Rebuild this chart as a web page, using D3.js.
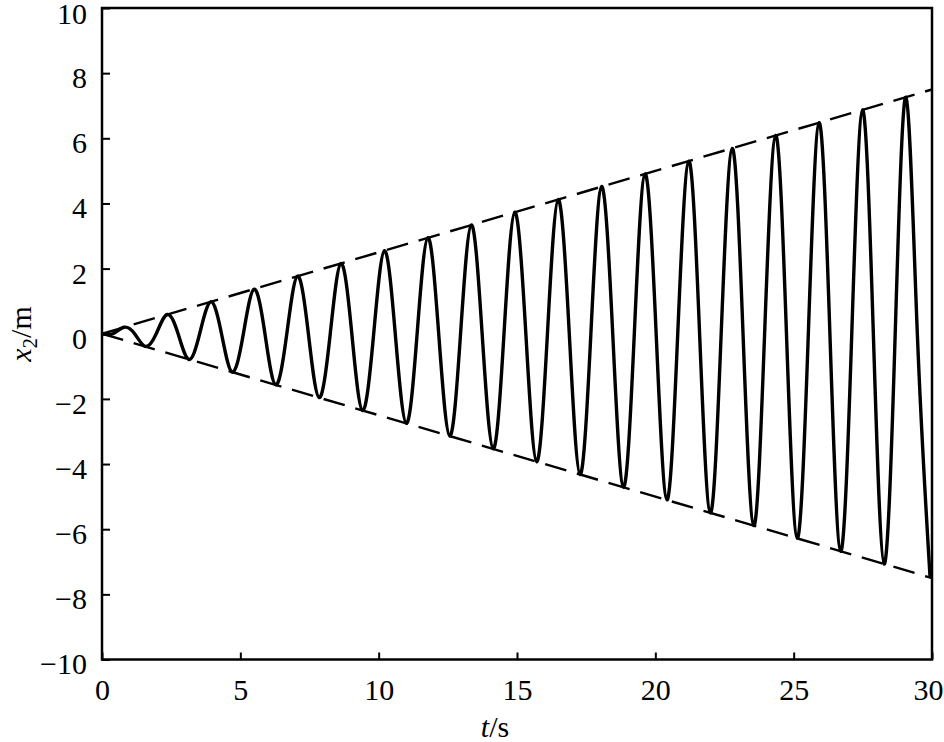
<!DOCTYPE html>
<html>
<head>
<meta charset="utf-8">
<script src="https://cdn.jsdelivr.net/npm/d3@7"></script>
<style>
  html, body { margin: 0; padding: 0; background: #fff; }
  svg { display: block; }
  text { font-family: "Liberation Serif", "Times New Roman", serif; fill: #000; }
</style>
</head>
<body>
<svg id="chart" width="944" height="742"></svg>
<script>
// ---- data ----
// times (s) of the peaks / troughs of x2
const extremaT = [0.79, 1.57, 2.36, 3.14, 3.93, 4.71, 5.50, 6.28, 7.07, 7.85,
  8.64, 9.42, 10.21, 11.00, 11.78, 12.57, 13.35, 14.14, 14.92, 15.71,
  16.49, 17.28, 18.06, 18.85, 19.63, 20.42, 21.21, 21.99, 22.78, 23.56,
  24.35, 25.13, 25.92, 26.70, 27.49, 28.27, 29.06, 29.93];
// x2 (m) at those peaks / troughs
const extremaV = [0.20, -0.39, 0.59, -0.79, 0.98, -1.18, 1.37, -1.57, 1.77, -1.96,
  2.16, -2.36, 2.55, -2.75, 2.95, -3.14, 3.34, -3.53, 3.73, -3.93,
  4.12, -4.32, 4.52, -4.71, 4.91, -5.10, 5.30, -5.50, 5.69, -5.89,
  6.09, -6.28, 6.48, -6.68, 6.87, -7.07, 7.26, -7.47];
// times (s) where x2 crosses zero
const zeroT = [0, 0.39, 1.18, 1.96, 2.75, 3.53, 4.32, 5.11, 5.89, 6.68, 7.46,
  8.25, 9.03, 9.82, 10.60, 11.39, 12.17, 12.96, 13.74, 14.53, 15.32,
  16.10, 16.89, 17.67, 18.46, 19.24, 20.03, 20.81, 21.60, 22.38, 23.17,
  23.95, 24.74, 25.53, 26.31, 27.10, 27.88, 28.67, 29.47];

// dashed envelope lines
const envT = [0, 30];
const envUpper = [0, 7.5];
const envLower = [0, -7.5];

// axis ticks
const xTicks = [0, 5, 10, 15, 20, 25, 30];
const yTicks = [-10, -8, -6, -4, -2, 0, 2, 4, 6, 8, 10];

// ---- build series ----
const series = [];
zeroT.forEach(t => series.push([t, 0]));
extremaT.forEach((t, i) => series.push([t, extremaV[i]]));
series.sort((a, b) => a[0] - b[0]);

// ---- layout ----
const svg = d3.select("#chart");
const L = 102, T = 8, R = 932, B = 659.5;
const x = d3.scaleLinear().domain([0, 30]).range([L, R]);
const y = d3.scaleLinear().domain([-10, 10]).range([B, T]);

const FS = 30;

// clip
svg.append("defs").append("clipPath").attr("id", "clip")
  .append("rect").attr("x", L).attr("y", T).attr("width", R - L).attr("height", B - T);

// envelope
const envLine = d3.line().x(d => x(d[0])).y(d => y(d[1]));
[envUpper, envLower].forEach(arr => {
  svg.append("path")
    .datum(envT.map((t, i) => [t, arr[i]]))
    .attr("d", envLine)
    .attr("fill", "none")
    .attr("stroke", "#000")
    .attr("stroke-width", 2.4)
    .attr("stroke-dasharray", "22,11")
    .attr("clip-path", "url(#clip)");
});

// response curve
svg.append("path")
  .datum(series)
  .attr("d", d3.line().x(d => x(d[0])).y(d => y(d[1])).curve(d3.curveNatural))
  .attr("fill", "none")
  .attr("stroke", "#000")
  .attr("stroke-width", 3.4)
  .attr("stroke-linejoin", "round")
  .attr("clip-path", "url(#clip)");

// axes
const xAxis = d3.axisBottom(x).tickValues(xTicks).tickSize(-7).tickPadding(20).tickFormat(d3.format("d"));
const yAxis = d3.axisLeft(y).tickValues(yTicks).tickSize(-8).tickPadding(15).tickFormat(d3.format("d"));

const gx = svg.append("g").attr("transform", `translate(0,${B})`).call(xAxis);
const gy = svg.append("g").attr("transform", `translate(${L},0)`).call(yAxis);

[gx, gy].forEach(g => {
  g.select(".domain").remove();
  g.selectAll(".tick line").attr("stroke", "#000").attr("stroke-width", 2);
  g.selectAll(".tick text").attr("font-size", FS)
    .attr("font-family", "'Liberation Serif', 'Times New Roman', serif").attr("fill", "#000");
});
gx.selectAll(".tick text").attr("dy", null).attr("y", 40)
  .attr("dx", d => d === 30 ? -4 : 0);
gy.selectAll(".tick text").attr("dy", d => d === 10 ? "0.52em" : "0.48em");

// frame
svg.append("rect")
  .attr("x", L).attr("y", T).attr("width", R - L).attr("height", B - T)
  .attr("fill", "none").attr("stroke", "#000").attr("stroke-width", 2.5);

// axis titles
const xt = svg.append("text")
  .attr("x", 495).attr("y", 737)
  .attr("text-anchor", "middle")
  .attr("font-size", FS);
xt.append("tspan").attr("font-style", "italic").text("t");
xt.append("tspan").text("/s");

const yt = svg.append("text")
  .attr("transform", `translate(31,334) rotate(-90)`)
  .attr("text-anchor", "middle")
  .attr("font-size", FS);
yt.append("tspan").attr("font-style", "italic").text("x");
yt.append("tspan").attr("font-size", FS * 0.7).attr("dy", 6).text("2");
yt.append("tspan").attr("dy", -6).text("/m");
</script>
</body>
</html>
